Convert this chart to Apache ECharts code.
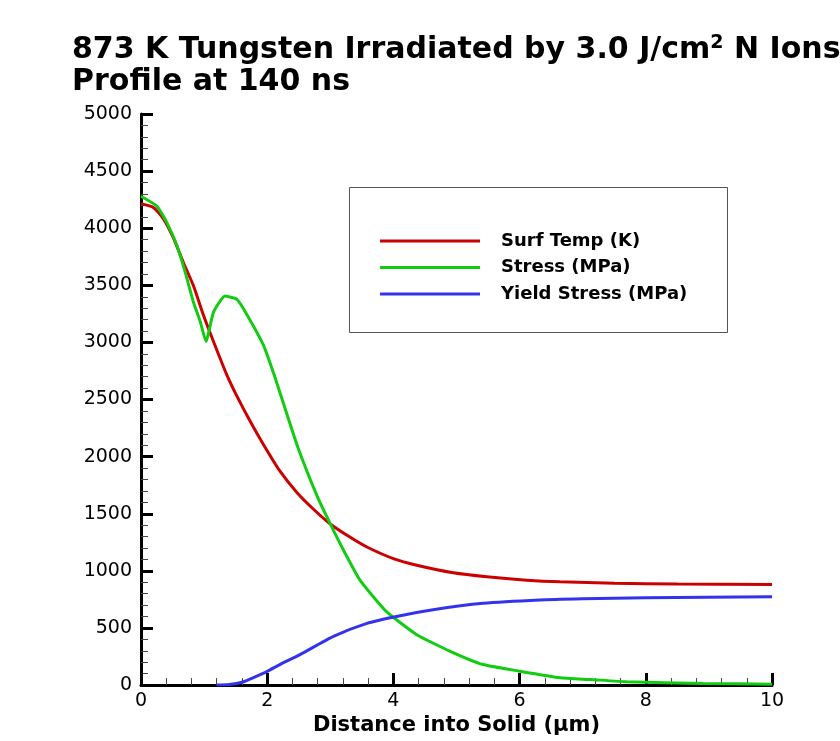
<!DOCTYPE html>
<html>
<head>
<meta charset="utf-8">
<script src="https://cdn.jsdelivr.net/npm/echarts@6/dist/echarts.min.js"></script>
<style>
  html, body { margin: 0; padding: 0; background: #fff; }
  #chart { width: 840px; height: 741px; }
</style>
</head>
<body>
<div id="chart"></div>
<script>
// distance into solid (um) and values
const tempX = [0, 0.2, 0.36, 0.51, 0.67, 0.83, 0.99, 1.15, 1.36, 1.52, 1.73, 1.94, 2.2, 2.47, 2.73, 3.0, 3.31, 3.58, 4.0, 4.37, 4.95, 5.48, 6.11, 6.64, 7.5, 8.5, 10.0]
const temp = [4215, 4180, 4078, 3919, 3702, 3498, 3238, 3006, 2716, 2530, 2310, 2107, 1875, 1687, 1542, 1411, 1296, 1209, 1107, 1049, 983, 948, 919, 904, 892, 885, 881]

const stressX = [0, 0.25, 0.41, 0.57, 0.7, 0.83, 0.94, 1.03, 1.15, 1.33, 1.52, 1.67, 1.94, 2.12, 2.47, 2.8, 3.0, 3.21, 3.47, 3.89, 4.37, 4.9, 5.42, 6.0, 6.64, 7.12, 7.7, 8.9, 10.0]
const stress = [4280, 4194, 4049, 3846, 3615, 3354, 3180, 3009, 3267, 3406, 3377, 3252, 2977, 2700, 2107, 1643, 1411, 1180, 919, 643, 441, 296, 180, 122, 64, 49, 29, 15, 8]

const yieldX = [1.2, 1.4, 1.6, 1.8, 2.0, 2.2, 2.52, 3.05, 3.58, 4.03, 4.63, 5.42, 6.32, 7.0, 8.0, 10.0]
const yieldStress = [0, 5, 25, 70, 120, 180, 267, 426, 540, 598, 660, 716, 745, 755, 765, 774]

const seriesNames = ['Surf Temp (K)', 'Stress (MPa)', 'Yield Stress (MPa)']
const seriesColors = ['#cc0000', '#11cc11', '#3333ee']

function zip(xs, ys) {
  return xs.map(function(x, i) { return [x, ys[i]] })
}

const chart = echarts.init(document.getElementById('chart'))

const axisCommon = {
  axisLine: { onZero: false, lineStyle: { color: '#000', width: 3 } },
  axisTick: { inside: true, length: 12, lineStyle: { color: '#000', width: 3 } },
  minorTick: { show: true, splitNumber: 5, length: 7, lineStyle: { color: '#444', width: 1 } },
  splitLine: { show: false },
  axisLabel: { color: '#000', fontFamily: 'DejaVu Sans', fontSize: 19, formatter: function(v) { return String(v) } }
}

function lineSeries(i, xs, ys, smooth) {
  return {
    name: seriesNames[i],
    type: 'line',
    data: zip(xs, ys),
    symbol: 'none',
    smooth: smooth,
    lineStyle: { color: seriesColors[i], width: 3 },
    itemStyle: { color: seriesColors[i] }
  }
}

const option = {
  animation: false,
  backgroundColor: '#fff',
  title: {
    text: '873 K Tungsten Irradiated by 3.0 J/cm{sup|2} N Ions\nProfile at 140 ns',
    left: 72,
    top: 34,
    padding: 0,
    textStyle: {
      color: '#000',
      fontFamily: 'DejaVu Sans',
      fontWeight: 'bold',
      fontSize: 30,
      lineHeight: 32,
      rich: {
        sup: {
          fontFamily: 'DejaVu Sans',
          fontWeight: 'bold',
          fontSize: 19,
          verticalAlign: 'top',
          padding: [0, 0, 16, 0]
        }
      }
    }
  },
  graphic: [{
    type: 'rect',
    left: 349,
    top: 187,
    shape: { width: 378, height: 145 },
    style: { fill: '#fff', stroke: '#555', lineWidth: 1 },
    z: 0
  }],
  legend: {
    data: seriesNames,
    orient: 'vertical',
    left: 375,
    top: 227,
    icon: 'rect',
    itemWidth: 100,
    itemHeight: 3,
    itemGap: 8.5,
    z: 5,
    textStyle: {
      color: '#000',
      fontFamily: 'DejaVu Sans',
      fontWeight: 'bold',
      fontSize: 18,
      padding: [0, 0, 0, 16]
    }
  },
  grid: { left: 141, right: 68, top: 114, bottom: 52 },
  xAxis: Object.assign({}, axisCommon, {
    type: 'value',
    min: 0,
    max: 10,
    interval: 2,
    name: 'Distance into Solid (\u03bcm)',
    nameLocation: 'middle',
    nameGap: 26,
    nameTextStyle: { color: '#000', fontFamily: 'DejaVu Sans', fontWeight: 'bold', fontSize: 21 },
    axisLabel: Object.assign({}, axisCommon.axisLabel, { margin: 6 })
  }),
  yAxis: Object.assign({}, axisCommon, {
    type: 'value',
    min: 0,
    max: 5000,
    interval: 500,
    axisLabel: Object.assign({}, axisCommon.axisLabel, { margin: 9 })
  }),
  series: [
    lineSeries(0, tempX, temp, 0.2),
    lineSeries(1, stressX, stress, 0.15),
    lineSeries(2, yieldX, yieldStress, 0.2)
  ]
}

chart.setOption(option)
</script>
</body>
</html>
